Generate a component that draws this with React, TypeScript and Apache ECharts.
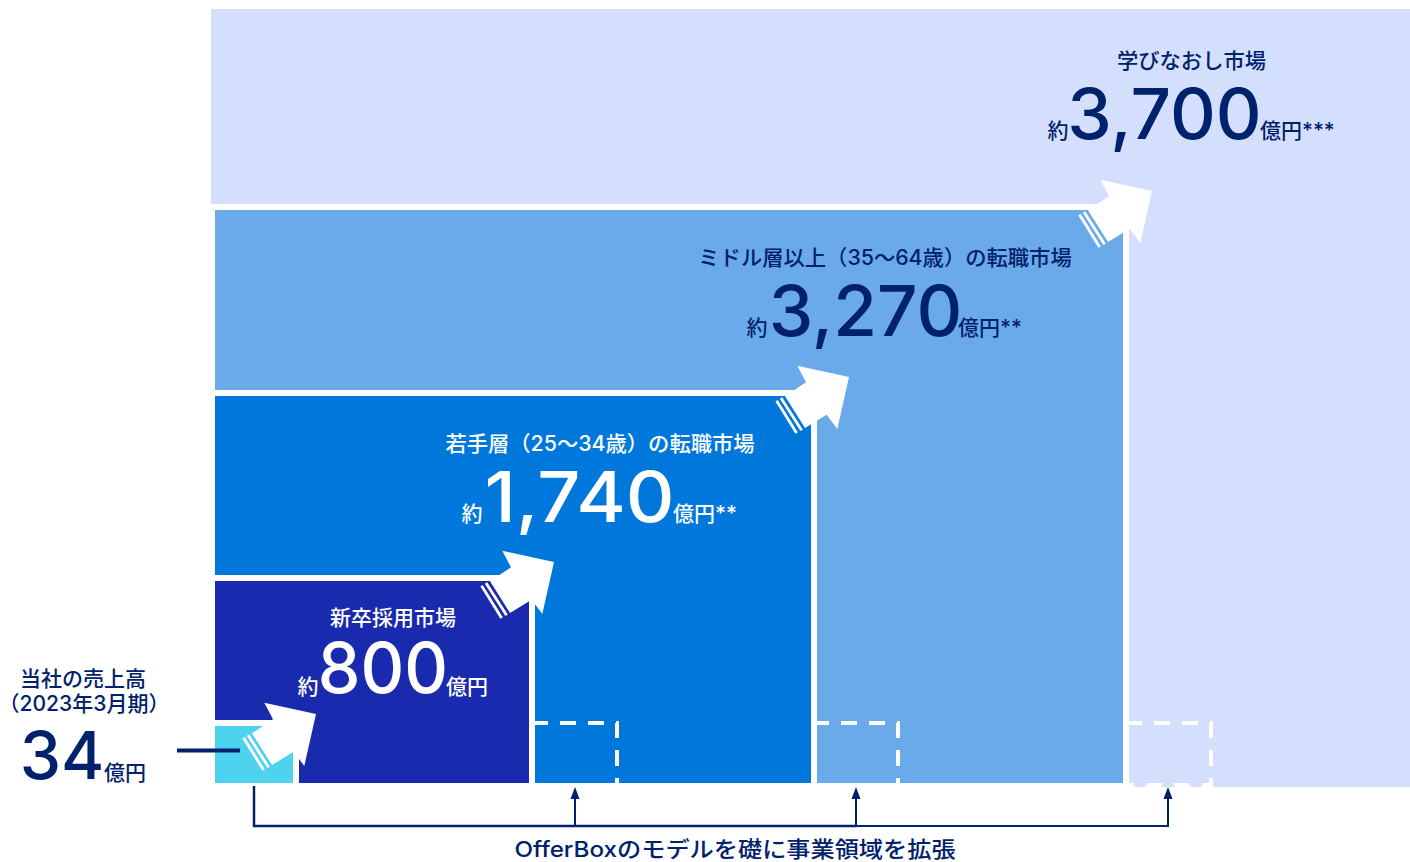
import React, { useEffect, useRef } from "react";
import * as echarts from "echarts";

const NAVY = "#00216B";
const CJK = 'Inter, "Noto Sans CJK JP", sans-serif';
const NUM = 'Inter, "Noto Sans", sans-serif';

// Market blocks, largest first: extent in diagram units
const marketNames = ["学びなおし市場", "ミドル層以上（35〜64歳）の転職市場", "若手層（25〜34歳）の転職市場", "新卒採用市場", "当社の売上高"];
const marketValues = ["3,700", "3,270", "1,740", "800", "34"];
const marketUnits = ["億円***", "億円**", "億円**", "億円", "億円"];
const blockWidths = [1195, 908, 596, 314, 78];
const blockHeights = [778, 573, 387, 202, 57];
const blockColors = ["#D4DFFE", "#6AAAEA", "#0078DB", "#1A2AAE", "#4DD2F0"];
// tips of the growth arrows
const arrowTipX = [937, 634, 339, 101];
const arrowTipY = [592, 406, 221, 69];
// dashed footprint of own business model
const footprintX = [320, 601, 914];
const footprintW = [82, 82, 82];
const footprintH = 60;
// bracket
const bracketStartX = 39;
const bracketArrowX = [360, 641, 953];
const noteText = "OfferBoxのモデルを礎に事業領域を拡張";

function txt(text: string, x: number, y: number, fontSize: number, fill: string, align = "center", fontFamily = CJK, fontWeight: any = 500, scaleX = 1) {
  return { type: "text", x, y, scaleX, z: 10, silent: true, style: { text, fontSize, fill, align, verticalAlign: "middle", fontFamily, fontWeight } };
}

export default function App() {
  const ref = useRef<HTMLDivElement>(null);
  useEffect(() => {
    document.body.style.margin = "0";
    const chart = echarts.init(ref.current!, undefined, { renderer: "svg" });
    const blockData = blockWidths.map((w, i) => [w, blockHeights[i], i]);
    const W = "#FFFFFF";
    chart.setOption({
      animation: false,
      grid: { left: 215, right: 0, top: 9, bottom: 79 },
      xAxis: { type: "value", min: 0, max: 1195, show: false },
      yAxis: { type: "value", min: 0, max: 774, show: false },
      series: [
        {
          type: "custom",
          coordinateSystem: "cartesian2d",
          silent: true,
          data: blockData,
          encode: { x: 0, y: 1 },
          renderItem(_p: any, api: any) {
            const i = api.value(2);
            const [x0, y0] = api.coord([0, 0]);
            const [x1, y1] = api.coord([api.value(0), api.value(1)]);
            if (i === 0) {
              return {
                type: "group",
                children: [
                  { type: "rect", shape: { x: x0 - 4, y: 9, width: x1 - x0 + 4, height: y0 - 9 + 4 }, style: { fill: blockColors[0] } },
                ],
              };
            }
            return {
              type: "group",
              children: [
                { type: "rect", shape: { x: x0 - 4, y: y1 - 6, width: x1 - x0 + 10, height: y0 - y1 + 10 }, style: { fill: W } },
                { type: "rect", shape: { x: x0, y: y1, width: x1 - x0, height: y0 - y1 }, style: { fill: blockColors[i] } },
              ],
            };
          },
          z: 1,
        },
        {
          type: "custom",
          coordinateSystem: "cartesian2d",
          silent: true,
          data: footprintX.map((x, i) => [x, footprintW[i], i]),
          encode: { x: 0 },
          renderItem(_p: any, api: any) {
            const i = api.value(2);
            const [xa, yb] = api.coord([api.value(0), 0]);
            const [xb, yt] = api.coord([api.value(0) + api.value(1), footprintH]);
            const pts = [[xa, yt], [xb, yt], [xb, yb + (i === 2 ? 2 : 0)]];
            if (i === 2) pts.push([xa, yb + 2]);
            return {
              type: "polyline",
              shape: { points: pts },
              style: { fill: "none", stroke: W, lineWidth: 4, lineDash: [16, 12], lineDashOffset: 3 },
            };
          },
          z: 2,
        },
        {
          type: "custom",
          coordinateSystem: "cartesian2d",
          silent: true,
          data: arrowTipX.map((x, i) => [x, arrowTipY[i]]),
          encode: { x: 0, y: 1 },
          renderItem(_p: any, api: any) {
            const [x, y] = api.coord([api.value(0), api.value(1)]);
            const o = (a: number, b: number) => [x + a, y + b];
            return {
              type: "group",
              children: [
                {
                  type: "polygon",
                  shape: { points: [o(-51.7, -11.3), o(0, 0), o(-11.7, 52), o(-22.4, 37.7), o(-44, 51), o(-64, 19.3), o(-43, 5.3)] },
                  style: { fill: W },
                },
                { type: "line", shape: { x1: x - 72.4, y1: y + 23.7, x2: x - 52.4, y2: y + 56 }, style: { stroke: W, lineWidth: 2.8 } },
                { type: "line", shape: { x1: x - 68, y1: y + 21, x2: x - 47.4, y2: y + 53.3 }, style: { stroke: W, lineWidth: 2.8 } },
              ],
            };
          },
          z: 3,
        },
        {
          type: "custom",
          coordinateSystem: "cartesian2d",
          silent: true,
          data: bracketArrowX.map((x) => [x]),
          encode: { x: 0 },
          renderItem(_p: any, api: any) {
            const [x, y0] = api.coord([api.value(0), 0]);
            return {
              type: "group",
              children: [
                { type: "line", shape: { x1: x, y1: y0 + 43, x2: x, y2: y0 + 12 }, style: { stroke: NAVY, lineWidth: 2 } },
                { type: "polygon", shape: { points: [[x, y0 + 4], [x + 4.5, y0 + 16], [x - 4.5, y0 + 16]] }, style: { fill: NAVY } },
              ],
            };
          },
          z: 3,
        },
        {
          type: "custom",
          coordinateSystem: "cartesian2d",
          silent: true,
          data: [[bracketStartX, bracketArrowX[1], bracketArrowX[2]]],
          encode: { x: 0 },
          renderItem(_p: any, api: any) {
            const [xa, y0] = api.coord([api.value(0), 0]);
            const [xm] = api.coord([api.value(1), 0]);
            const [xb] = api.coord([api.value(2), 0]);
            return {
              type: "group",
              children: [
                { type: "polyline", shape: { points: [[xa, y0 + 3], [xa, y0 + 43], [xm, y0 + 43]] }, style: { fill: "none", stroke: NAVY, lineWidth: 2.5 } },
                { type: "line", shape: { x1: xm, y1: y0 + 43, x2: xb + 1, y2: y0 + 43 }, style: { stroke: NAVY, lineWidth: 2 } },
              ],
            };
          },
          z: 3,
        },
      ],
      graphic: {
        elements: [
          { type: "line", z: 10, silent: true, shape: { x1: 177, y1: 750.5, x2: 240, y2: 750.5 }, style: { stroke: NAVY, lineWidth: 4 } },
          txt(marketNames[0], 1191.5, 61, 21, NAVY, "center", CJK, 500, 1.015),
          txt("約", 1058, 130, 21, NAVY),
          txt(marketValues[0], 1164.5, 114, 70, NAVY, "center", NUM, 450, 1.015),
          txt(marketUnits[0], 1260, 130, 21, NAVY, "left"),
          txt(marketNames[1], 885, 258, 21, NAVY, "center", CJK, 500, 1.015),
          txt("約", 757, 327, 21, NAVY),
          txt(marketValues[1], 865.5, 311, 70, NAVY, "center", NUM, 450, 1.015),
          txt(marketUnits[1], 958, 327, 21, NAVY, "left"),
          txt(marketNames[2], 600, 444, 21, W, "center", CJK, 500, 1.015),
          txt("約", 472, 513, 21, W),
          txt(marketValues[2], 579.5, 497, 70, W, "center", NUM, 450, 1.08),
          txt(marketUnits[2], 673, 513, 21, W, "left"),
          txt(marketNames[3], 393, 617, 21, W),
          txt("約", 308, 686, 21, W),
          txt(marketValues[3], 383, 668, 70, W, "center", NUM, 450, 0.97),
          txt(marketUnits[3], 446, 686, 21, W, "left"),
          txt(marketNames[4], 83, 678, 21, NAVY),
          txt("（2023年3月期）", 84, 703, 21, NAVY),
          txt(marketValues[4], 62, 755, 66, NAVY, "center", NUM, 500),
          txt(marketUnits[4], 104, 772, 21, NAVY, "left"),
          txt(noteText, 735, 849.5, 22, NAVY, "center", CJK, 500, 1.1),
        ],
      },
    });
    return () => chart.dispose();
  }, []);
  return <div ref={ref} style={{ width: 1410, height: 862 }} />;
}
